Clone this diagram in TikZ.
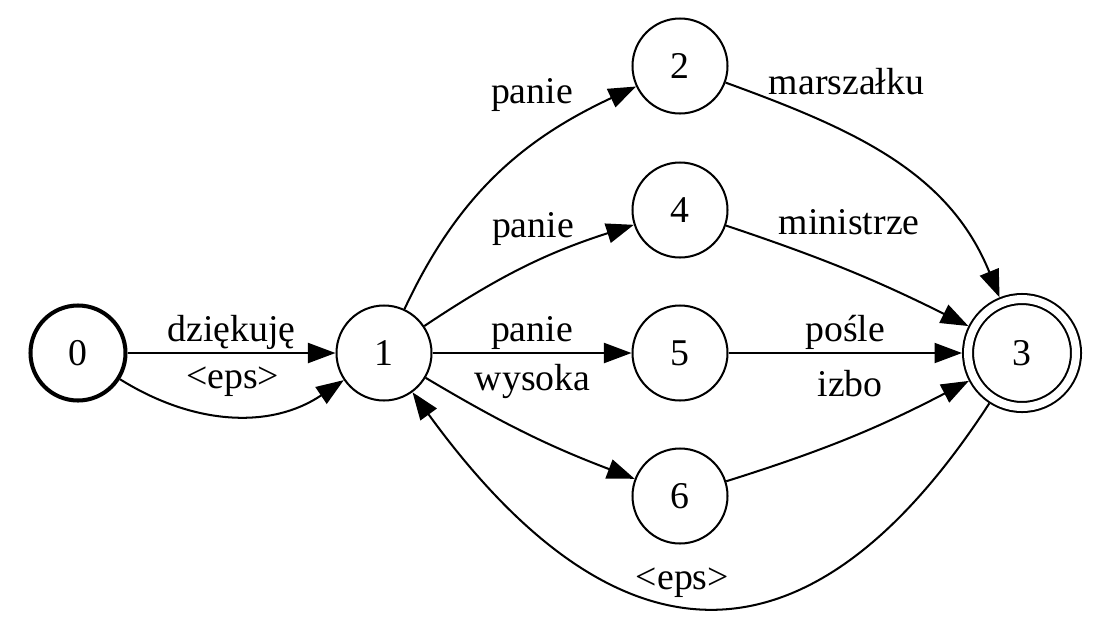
\documentclass[tikz,border=0pt]{standalone}
\usepackage{fontspec}
\setmainfont{Liberation Serif}
\usepackage{tikz}
\usetikzlibrary{arrows.meta,positioning}

\begin{document}
\begin{tikzpicture}[
  every node/.style={font=\fontsize{21.5}{25}\selectfont},
  state/.style={draw, circle, on grid, line width=1.15pt, minimum size=1.9cm, inner sep=0pt},
  start/.style={state, line width=2.3pt},
  final/.style={state, double, double distance=0.16cm, minimum size=2.16cm, outer sep=0.12cm},
  lbl/.style={inner sep=1.5pt},
  arr/.style={-{Triangle[length=0.55cm, width=0.4cm]}, line width=1.15pt}
]
  \useasboundingbox (0,0) rectangle (22,-12.84);

  \node[start] (n0) at (1.56,-7.06) {0};
  \node[state, right=6.12cm of n0] (n1) {1};
  \node[state, right=5.92cm of n1] (n5) {5};
  \node[state, above=2.86cm of n5] (n4) {4};
  \node[state, above=2.88cm of n4] (n2) {2};
  \node[state, below=2.86cm of n5] (n6) {6};
  \node[final, right=6.84cm of n5] (n3) {3};

  \draw[arr] (n0) -- node[lbl, above] (l01a) {dziękuję} (n1);
  \draw[arr] (n0) to[out=-32, in=214] node[lbl, above=0.3cm] (l01b) {<eps>} (n1);
  \draw[arr] (n1) to[out=65, in=205] node[lbl, pos=0.7, above=0.43cm, xshift=-0.28cm] (l12) {panie} (n2);
  \draw[arr] (n1) to[bend left=8] node[lbl, above=0.36cm, xshift=0.16cm] (l14) {panie} (n4);
  \draw[arr] (n1) -- node[lbl, above] (l15) {panie} (n5);
  \draw[arr] (n1) to[bend right=5] node[lbl, above=0.62cm, xshift=0.1cm] (l16) {wysoka} (n6);
  \draw[arr] (n2) to[out=-20, in=112] node[lbl, pos=0.3, above=0.54cm, xshift=0.3cm] (l23) {marszałku} (n3);
  \draw[arr] (n4) to[bend left=4] node[lbl, above=0.64cm] (l43) {ministrze} (n3);
  \draw[arr] (n5) -- node[lbl, above] (l53) {pośle} (n3);
  \draw[arr] (n6) to[bend right=5] node[lbl, above=0.74cm] (l63) {izbo} (n3);
  \draw[arr] (n3) to[out=237, in=-54, looseness=1.5] node[lbl, above=0.12cm, xshift=-0.48cm] (l31) {<eps>} (n1);
\end{tikzpicture}
\end{document}
